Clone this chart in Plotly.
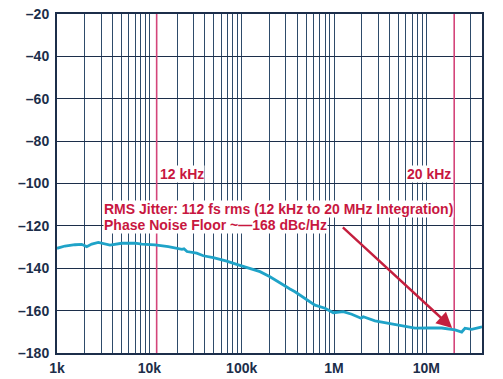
import math
import plotly.graph_objects as go

# Phase-noise curve (frequency in Hz, level in dBc/Hz)
freq_hz = [1000, 1221, 1567, 1849, 2097, 2377, 2800, 3228, 3750, 5016, 6996, 8262,
           11510, 16030, 18960, 22580, 23730, 25570, 32560, 38400, 49210, 68790,
           88290, 113300, 157900, 202400, 259900, 333400, 377700, 484400, 621700,
           797900, 982000, 1.259e6, 1.553e6, 1.959e6, 2.074e6, 2.775e6, 3.562e6,
           4.571e6, 5.867e6, 7.529e6, 1.05e7, 1.466e7, 2.042e7, 2.411e7, 2.618e7,
           3.093e7, 3.8e7, 4.0e7]
phase_noise_dbc = [-130.6, -129.5, -128.9, -128.7, -129.8, -128.6, -127.8, -128.6, -129.1,
                   -128.2, -128.1, -128.6, -129.0, -129.8, -130.4, -131.1, -130.8, -132.1,
                   -132.9, -134.1, -135.0, -136.6, -138.2, -139.8, -141.6, -144.0, -147.1,
                   -149.8, -151.1, -154.2, -157.4, -158.9, -161.0, -160.5, -161.7, -163.6,
                   -162.9, -164.8, -165.7, -166.5, -167.6, -168.3, -168.1, -168.2, -169.1,
                   -170.1, -168.3, -168.8, -167.9, -167.7]

x_tick_vals = [1e3, 1e4, 1e5, 1e6, 1e7]
x_tick_text = ["1k", "10k", "100k", "1M", "10M"]
y_tick_vals = [-20, -40, -60, -80, -100, -120, -140, -160, -180]
y_tick_text = ["\u201320", "\u201340", "\u201360", "\u201380", "\u2013100", "\u2013120",
               "\u2013140", "\u2013160", "\u2013180"]
marker_freqs = [12e3, 20e6]
marker_labels = ["12 kHz", "20 kHz"]
jitter_text = "RMS Jitter: 112 fs rms (12 kHz to 20 MHz Integration)"
floor_text = "Phase Noise Floor ~\u2014168 dBc/Hz"
arrow_head = (19e6, -168.2)
arrow_tail = (1.2e6, -120.1)

x_min, x_max = 1e3, 4e7
y_min, y_max = -180, -20

minor_vals = [m * d for d in [1e3, 1e4, 1e5, 1e6, 1e7] for m in range(2, 10)
              if m * d < x_max]

NAVY = "#1c2e4a"
GRID = "#2e4b6a"
RED = "#c8173f"
FONT = "Arial, Liberation Sans, sans-serif"

fig = go.Figure()

for f in marker_freqs:
    fig.add_trace(go.Scatter(x=[f, f], y=[y_min, y_max], mode="lines",
                             line=dict(color="#d4457a", width=1.6),
                             hoverinfo="skip", showlegend=False))

fig.add_trace(go.Scatter(x=freq_hz, y=phase_noise_dbc, mode="lines",
                         line=dict(color="#1fa3c8", width=2.8),
                         showlegend=False))

label_font = dict(family=FONT, size=14, color=RED)
fig.add_annotation(x=math.log10(marker_freqs[0]), y=-100, xref="x", yref="y",
                   text="<b>%s</b>" % marker_labels[0], showarrow=False,
                   xanchor="left", yanchor="bottom", xshift=2, yshift=1,
                   font=label_font, bgcolor="white", borderpad=0)
fig.add_annotation(x=math.log10(marker_freqs[1]), y=-100, xref="x", yref="y",
                   text="<b>%s</b>" % marker_labels[1], showarrow=False,
                   xanchor="right", yanchor="bottom", xshift=-2, yshift=1,
                   font=label_font, bgcolor="white", borderpad=0)

fig.add_annotation(x=0.108, y=0.424, xref="paper", yref="paper",
                   text="<b>%s</b>" % jitter_text, showarrow=False,
                   xanchor="left", yanchor="middle", font=label_font,
                   bgcolor="white", borderpad=0)
fig.add_annotation(x=0.108, y=0.377, xref="paper", yref="paper",
                   text="<b>%s</b>" % floor_text, showarrow=False,
                   xanchor="left", yanchor="middle", font=label_font,
                   bgcolor="white", borderpad=0)

fig.add_annotation(x=math.log10(arrow_head[0]), y=arrow_head[1], xref="x", yref="y",
                   ax=math.log10(arrow_tail[0]), ay=arrow_tail[1], axref="x", ayref="y",
                   text="", showarrow=True, arrowhead=2, arrowsize=1.3, arrowwidth=2.4,
                   arrowcolor="#c41f3e")

fig.update_xaxes(type="log", range=[math.log10(x_min), math.log10(x_max)],
                 tickvals=x_tick_vals, ticktext=x_tick_text,
                 showgrid=True, gridcolor=GRID, gridwidth=1.3,
                 minor=dict(tickvals=minor_vals, showgrid=True, gridcolor=GRID,
                            gridwidth=1.3, ticks=""),
                 ticks="", showline=True, mirror=True, linecolor=NAVY, linewidth=2,
                 tickfont=dict(family=FONT, size=14, color=NAVY, weight="bold"),
                 zeroline=False, ticklabelstandoff=1, ticklabeloverflow="allow",
                 automargin=False)
fig.update_yaxes(range=[y_min, y_max], tickvals=y_tick_vals, ticktext=y_tick_text,
                 showgrid=True, gridcolor=NAVY, gridwidth=1.3,
                 ticks="", showline=True, mirror=True, linecolor=NAVY, linewidth=2,
                 tickfont=dict(family=FONT, size=14, color=NAVY, weight="bold"),
                 zeroline=False, ticklabelstandoff=3, ticklabeloverflow="allow",
                 automargin=False)

# page body adds an 8px margin; size the figure so it fits the 503x379 window
fig.update_layout(width=495, height=371, margin=dict(l=49, r=21, t=6, b=26),
                  paper_bgcolor="white", plot_bgcolor="white", showlegend=False)

fig.write_html("out.html")
